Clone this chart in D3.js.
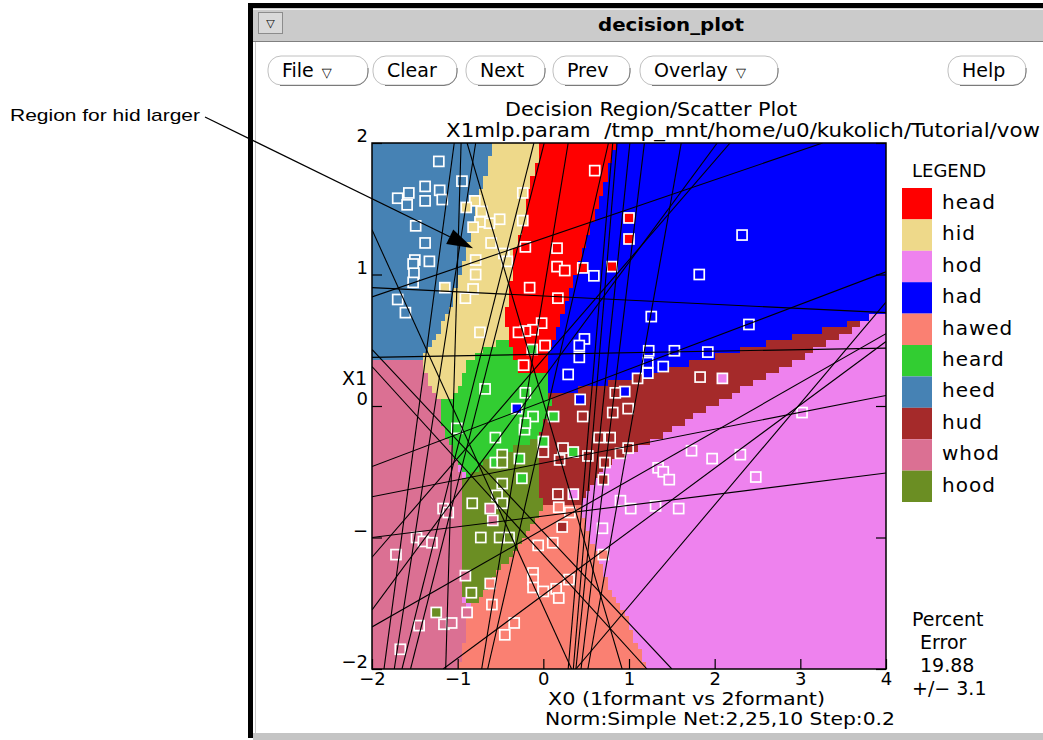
<!DOCTYPE html>
<html>
<head>
<meta charset="utf-8">
<script src="https://cdn.jsdelivr.net/npm/d3@7/dist/d3.min.js"></script>
<style>
  body { margin: 0; background: #fff; }
  svg text { font-family: "DejaVu Sans", "Liberation Sans", sans-serif; fill: #000; }
</style>
</head>
<body>
<svg id="chart" width="1043" height="740"></svg>
<script>
// ---- data ----
var classNames  = ["head", "hid", "hod", "had", "hawed", "heard", "heed", "hud", "whod", "hood"];
var classColors = ["#ff0000", "#eed98a", "#ee82ee", "#0000ff", "#fa8072", "#32cd32", "#4682b4", "#a52a2a", "#db7093", "#6b8e23"];

var xTicks = [-2, -1, 0, 1, 2, 3, 4];
var yTicks = [-2, -1, 0, 1, 2];
var yTickLabels = ["\u22122", "\u2212", "0", "1", "2"];

var percentError = "19.88",
    errorMargin  = "3.1";

// decision regions, outlines in data units (hod fills what is left)
var hawedRegion = [[-1,-2],[-0.94,-1.83],[-0.89,-1.68],[-0.86,-1.5],[-0.77,-1.48],[-0.47,-1.22],[-0.19,-0.97],[0.02,-0.77],[0.43,-0.74],[0.52,-0.94],[0.66,-1.17],[0.78,-1.42],[0.98,-1.63],[1.21,-2]];
var hudRegion   = [[0.04,0.08],[0.66,0.16],[1.13,0.24],[1.71,0.33],[2.69,0.49],[3.35,0.59],[3.76,0.67],[3.76,0.64],[3.38,0.5],[2.96,0.35],[2.3,0.12],[1.83,-0.05],[1.16,-0.31],[0.78,-0.43],[0.6,-0.56],[0.43,-0.73],[0.02,-0.77],[-0.04,-0.7],[-0.04,-0.24],[-0.02,-0.16],[0.08,0.02]];
var hadRegion   = [[0.84,2],[4,2],[4,0.71],[3.76,0.67],[3.35,0.59],[2.69,0.49],[1.71,0.33],[1.13,0.24],[0.66,0.16],[0.04,0.08],[0.04,0.25],[0.04,0.37],[0.16,0.58],[0.28,0.83],[0.43,1.09],[0.55,1.34],[0.66,1.59],[0.76,1.79]];
var headRegion  = [[-0.04,2],[0.84,2],[0.76,1.79],[0.66,1.59],[0.55,1.34],[0.43,1.09],[0.28,0.83],[0.16,0.58],[0.04,0.37],[0.04,0.25],[-0.27,0.25],[-0.39,0.48],[-0.45,0.65],[-0.39,0.88],[-0.35,1.13],[-0.24,1.39],[-0.19,1.64],[-0.07,1.87]];
var hidRegion   = [[-0.59,2],[-0.04,2],[-0.07,1.87],[-0.19,1.64],[-0.24,1.39],[-0.35,1.13],[-0.39,0.88],[-0.45,0.65],[-0.39,0.48],[-0.54,0.48],[-0.86,0.35],[-1.05,0.05],[-1.21,0.05],[-1.36,0.2],[-1.42,0.35],[-1.21,0.58],[-1.07,0.78],[-1.0,0.94],[-0.94,1.09],[-0.82,1.34],[-0.76,1.59],[-0.68,1.74]];
var heedRegion  = [[-2,2],[-0.59,2],[-0.68,1.74],[-0.76,1.59],[-0.82,1.34],[-0.94,1.09],[-1.0,0.94],[-1.07,0.78],[-1.21,0.58],[-1.42,0.35],[-1.62,0.33],[-2,0.33]];
var whodRegion  = [[-2,0.33],[-1.62,0.33],[-1.42,0.35],[-1.36,0.2],[-1.21,0.02],[-1.17,-0.16],[-1.09,-0.28],[-1.01,-0.41],[-0.94,-0.54],[-0.94,-1.42],[-0.89,-1.68],[-0.94,-1.83],[-1,-2],[-2,-2]];
var heardRegion = [[-0.54,0.48],[-0.39,0.48],[-0.27,0.25],[0.04,0.25],[0.08,0.02],[-0.02,-0.16],[-0.04,-0.24],[-0.31,-0.31],[-0.66,-0.41],[-0.89,-0.54],[-1.01,-0.41],[-1.09,-0.28],[-1.17,-0.16],[-1.21,0.02],[-1.05,0.05],[-0.86,0.35]];
var hoodRegion  = [[-0.94,-0.54],[-0.89,-0.54],[-0.66,-0.41],[-0.31,-0.31],[-0.04,-0.24],[-0.04,-0.7],[0.02,-0.77],[-0.19,-0.97],[-0.47,-1.22],[-0.77,-1.48],[-0.86,-1.5],[-0.94,-1.42]];

// first layer hyperplanes: x1, y1, x2, y2 (data units)
var hyperplanes = [
  [-2, 0.83, 3.26, 2], [-2, 0.90, 4, 0.71], [-2, 0.37, 4, 0.44], [-2, -0.46, 4, 1.02],
  [-2, -0.69, 4, 0.08], [-2, -1.00, 4, -0.51], [-1.17, -2, 4, 0.49], [-2, -1.68, 4, 0.55],
  [0.38, -2, 4, 0.79], [-2, 0.30, 1.21, -2], [-2, 0.43, 1.50, -2], [-2, -1.15, 2.18, 2],
  [-2, -1.55, 2.03, 2], [-2, 1.34, 0.33, -2], [-0.89, 2, 0.92, -2], [-1.04, 2, -1.86, -2],
  [-0.96, 2, -1.14, -2], [-0.79, 2, -1.74, -2], [-0.11, 2, -1.65, -2], [0.01, 2, -1.55, -2],
  [0.29, 2, -0.72, -2], [0.76, 2, -0.65, -2], [0.81, 2, 0.29, -2], [0.86, 2, 0.35, -2],
  [1.01, 2, 0.38, -2], [1.18, 2, 0.44, -2], [1.61, 2, 0.52, -2]
];

// training samples: x0, x1, class
var samples = [
  [-1.22,1.86,"heed"],[-0.95,1.71,"heed"],[-1.38,1.67,"heed"],[-1.21,1.64,"heed"],[-1.57,1.62,"heed"],[-1.70,1.58,"heed"],
  [-1.59,1.53,"heed"],[-1.38,1.56,"heed"],[-1.18,1.57,"heed"],[-1.49,1.37,"heed"],[-1.38,1.24,"heed"],[-1.50,1.11,"heed"],
  [-1.33,1.10,"heed"],[-1.52,1.08,"heed"],[-1.51,1.01,"heed"],[-1.52,0.94,"heed"],[-1.70,0.81,"heed"],[-1.61,0.71,"heed"],
  [-0.80,1.56,"hid"],[-0.90,1.51,"hid"],[-0.72,1.48,"hid"],[-0.24,1.62,"hid"],[-0.24,1.41,"hid"],[-0.51,1.42,"hid"],
  [-0.63,1.39,"hid"],[-0.74,1.40,"hid"],[-0.82,1.36,"hid"],[-0.61,1.24,"hid"],[-0.46,1.16,"hid"],[-0.42,1.10,"hid"],
  [-0.79,1.11,"hid"],[-0.79,1.00,"hid"],[-1.15,0.90,"hid"],[-0.82,0.89,"hid"],[-0.91,0.82,"hid"],[-0.74,0.56,"hid"],
  [0.60,1.79,"head"],[-0.21,1.21,"head"],[0.16,1.20,"head"],[0.16,1.06,"head"],[0.25,1.03,"head"],[-0.16,0.90,"head"],
  [0.17,0.82,"head"],[-0.02,0.63,"head"],[-0.12,0.58,"head"],[-0.21,0.57,"head"],[-0.29,0.56,"head"],[0.02,0.46,"head"],
  [-0.23,0.31,"head"],[0.46,1.05,"head"],[0.80,1.06,"head"],[1.00,1.43,"head"],[1.00,1.27,"head"],
  [0.59,0.99,"had"],[0.48,0.51,"had"],[0.42,0.46,"had"],[0.42,0.37,"had"],[0.29,0.24,"had"],[2.32,1.30,"had"],
  [1.82,1.00,"had"],[1.26,0.68,"had"],[2.40,0.62,"had"],[1.23,0.42,"had"],[1.53,0.42,"had"],[1.92,0.41,"had"],
  [1.22,0.33,"had"],[1.40,0.30,"had"],[1.22,0.25,"had"],[0.95,0.11,"had"],[0.43,0.05,"had"],[-0.31,-0.02,"had"],
  [1.83,0.22,"hud"],[1.10,0.21,"hud"],[0.84,0.10,"hud"],[0.99,-0.02,"hud"],[0.81,-0.05,"hud"],[0.78,-0.24,"hud"],
  [0.90,-0.36,"hud"],[0.99,-0.32,"hud"],[0.46,-0.08,"hud"],[0.00,-0.35,"hud"],[0.23,-0.32,"hud"],[0.19,-0.41,"hud"],
  [0.52,-0.38,"hud"],[0.65,-0.24,"hud"],[0.17,-0.67,"hud"],[0.72,-0.43,"hud"],[0.70,-0.56,"hud"],[0.22,-0.92,"hud"],
  [2.09,0.21,"hod"],[3.02,-0.05,"hod"],[1.73,-0.34,"hod"],[1.97,-0.40,"hod"],[2.30,-0.37,"hod"],[1.34,-0.47,"hod"],
  [1.40,-0.50,"hod"],[1.47,-0.56,"hod"],[2.48,-0.54,"hod"],[0.90,-0.72,"hod"],[1.02,-0.78,"hod"],[1.31,-0.76,"hod"],
  [1.58,-0.78,"hod"],[0.69,-0.93,"hod"],[0.35,-0.67,"hod"],
  [0.70,-1.13,"hawed"],[0.18,-0.77,"hawed"],[0.31,-0.81,"hawed"],[-0.06,-1.06,"hawed"],[0.11,-1.04,"hawed"],[-0.62,-1.35,"hawed"],
  [-0.12,-1.27,"hawed"],[-0.12,-1.32,"hawed"],[-0.12,-1.38,"hawed"],[0.00,-1.41,"hawed"],[0.15,-1.39,"hawed"],[0.30,-1.32,"hawed"],
  [0.18,-1.46,"hawed"],[-0.60,-1.51,"hawed"],[-0.34,-1.65,"hawed"],[-0.45,-1.74,"hawed"],
  [-0.68,0.13,"heard"],[-0.21,0.10,"heard"],[-0.12,-0.08,"heard"],[0.12,-0.08,"heard"],[-1.01,-0.17,"heard"],[-0.22,-0.18,"heard"],
  [-0.21,-0.13,"heard"],[-0.56,-0.24,"heard"],[0.00,-0.27,"heard"],[0.35,-0.35,"heard"],[-0.56,-0.43,"heard"],[-0.28,-0.40,"heard"],
  [-0.25,-0.55,"heard"],[-0.13,0.43,"heard"],
  [-0.48,-0.37,"hood"],[-0.48,-0.43,"hood"],[-0.48,-0.59,"hood"],[-0.54,-0.68,"hood"],[-0.48,-0.74,"hood"],[-0.83,-0.74,"hood"],
  [-0.73,-1.00,"hood"],[-0.51,-1.00,"hood"],[-0.40,-1.00,"hood"],[-0.84,-1.42,"hood"],[-1.25,-1.57,"hood"],
  [-0.62,-0.78,"whod"],[-0.59,-0.87,"whod"],[-1.17,-0.78,"whod"],[-1.11,-0.81,"whod"],[-1.48,-1.00,"whod"],[-1.40,-1.03,"whod"],
  [-1.30,-1.04,"whod"],[-1.72,-1.13,"whod"],[-0.91,-1.29,"whod"],[-0.89,-1.57,"whod"],[-1.45,-1.67,"whod"],[-1.16,-1.66,"whod"],
  [-1.07,-1.65,"whod"],[-1.67,-1.85,"whod"]
];

var note = { text: "Region for hid larger", target: [-0.82, 1.20] };

// ---- setup ----
var svg = d3.select("#chart");

var x = d3.scaleLinear().domain([-2, 4]).range([372, 886]);
var y = d3.scaleLinear().domain([-2, 2]).range([669, 143]);
var color = d3.scaleOrdinal().domain(classNames).range(classColors);

// ---- window chrome ----
svg.append("rect").attr("x", 248).attr("y", 3).attr("width", 795).attr("height", 5).attr("fill", "#000");
svg.append("rect").attr("x", 248).attr("y", 3).attr("width", 5).attr("height", 735).attr("fill", "#000");
svg.append("rect").attr("x", 253).attr("y", 8).attr("width", 790).attr("height", 34).attr("fill", "#cbcbcb");
svg.append("line").attr("x1", 253).attr("x2", 1043).attr("y1", 9.5).attr("y2", 9.5).attr("stroke", "#f2f2f2");
svg.append("line").attr("x1", 253).attr("x2", 1043).attr("y1", 41.5).attr("y2", 41.5).attr("stroke", "#808080");
svg.append("line").attr("x1", 255.5).attr("x2", 255.5).attr("y1", 42).attr("y2", 733).attr("stroke", "#c8c8c8");
svg.append("rect").attr("x", 253).attr("y", 733).attr("width", 790).attr("height", 7).attr("fill", "#c4c4c4");

svg.append("rect").attr("x", 258.5).attr("y", 12.5).attr("width", 24).attr("height", 21)
    .attr("fill", "#d9d9d9").attr("stroke", "#8c8c8c");
svg.append("text").attr("x", 270.5).attr("y", 27).attr("text-anchor", "middle")
    .style("font-size", "11px").text("\u25BD");
svg.append("text").attr("x", 671).attr("y", 31).attr("text-anchor", "middle")
    .attr("textLength", 146).attr("lengthAdjust", "spacingAndGlyphs")
    .style("font-size", "18px").style("font-weight", "bold").text("decision_plot");

var buttons = [
  { label: "File", menu: true,  x: 268, w: 100 },
  { label: "Clear", menu: false, x: 373, w: 84 },
  { label: "Next", menu: false, x: 466, w: 79 },
  { label: "Prev", menu: false, x: 553, w: 77 },
  { label: "Overlay", menu: true,  x: 640, w: 138 },
  { label: "Help", menu: false, x: 948, w: 78 }
];

var btn = svg.append("g").selectAll("g").data(buttons).join("g")
    .attr("transform", function(d) { return "translate(" + d.x + ",56)"; });

btn.append("rect")
    .attr("width", function(d) { return d.w; })
    .attr("height", 29)
    .attr("rx", 13)
    .attr("fill", "#fff")
    .attr("stroke", "#c0c0c0");

btn.append("path")
    .attr("d", function(d) {
        return "M12,29.5 H" + (d.w - 13) + " A13,13 0 0 0 " + d.w + ",16 V12";
    })
    .attr("fill", "none")
    .attr("stroke", "#7a7a7a");

btn.append("text")
    .attr("x", 14)
    .attr("y", 21)
    .style("font-size", "19px")
    .text(function(d) { return d.label; })
    .append("tspan")
    .attr("dx", 8)
    .style("font-size", "13px")
    .text(function(d) { return d.menu ? "\u25BD" : ""; });

// ---- titles ----
svg.append("text").attr("x", 651).attr("y", 116).attr("text-anchor", "middle")
    .attr("textLength", 292).attr("lengthAdjust", "spacingAndGlyphs")
    .style("font-size", "19px").text("Decision Region/Scatter Plot");
svg.append("text").attr("x", 446).attr("y", 137)
    .attr("textLength", 594).attr("lengthAdjust", "spacingAndGlyphs")
    .style("font-size", "19px")
    .text("X1mlp.param\u00a0\u00a0/tmp_mnt/home/u0/kukolich/Tutorial/vow");

// ---- decision regions, sampled on a grid ----
var regionLayers = [
  ["hawed", hawedRegion], ["hud", hudRegion], ["had", hadRegion], ["head", headRegion],
  ["hid", hidRegion], ["heed", heedRegion], ["whod", whodRegion], ["heard", heardRegion],
  ["hood", hoodRegion]
];

function class_at(px, py) {
    var c = "hod";
    regionLayers.forEach(function(l) {
        if (d3.polygonContains(l[1], [px, py])) c = l[0];
    });
    return c;
}

var step = 0.05,
    nx = Math.round(6 / step),
    ny = Math.round(4 / step);

var runs = [];
for (var j = 0; j < ny; j++) {
    var yc = -2 + (j + 0.5) * step,
        cur = null;
    for (var i = 0; i < nx; i++) {
        var c = class_at(-2 + (i + 0.5) * step, yc);
        if (cur && cur.c === c) cur.i1 = i + 1;
        else { cur = { c: c, i0: i, i1: i + 1, j: j }; runs.push(cur); }
    }
}

svg.append("defs").append("clipPath").attr("id", "plotClip")
    .append("rect").attr("x", x(-2)).attr("y", y(2))
    .attr("width", x(4) - x(-2)).attr("height", y(-2) - y(2));

svg.append("g").attr("shape-rendering", "crispEdges")
    .selectAll("rect").data(runs).join("rect")
    .attr("x", function(d) { return x(-2 + d.i0 * step); })
    .attr("width", function(d) { return x(-2 + d.i1 * step) - x(-2 + d.i0 * step); })
    .attr("y", function(d) { return y(-2 + (d.j + 1) * step); })
    .attr("height", function(d) { return y(-2 + d.j * step) - y(-2 + (d.j + 1) * step); })
    .attr("fill", function(d) { return color(d.c); });

// ---- samples ----
svg.append("g").attr("clip-path", "url(#plotClip)")
    .selectAll("rect").data(samples).join("rect")
    .attr("x", function(d) { return x(d[0]) - 5; })
    .attr("y", function(d) { return y(d[1]) - 5; })
    .attr("width", 10)
    .attr("height", 10)
    .attr("fill", function(d) { return color(d[2]); })
    .attr("stroke", "#fff")
    .attr("stroke-width", 1.7);

// ---- hyperplanes ----
svg.append("g").attr("clip-path", "url(#plotClip)")
    .selectAll("line").data(hyperplanes).join("line")
    .attr("x1", function(d) { return x(d[0]); })
    .attr("y1", function(d) { return y(d[1]); })
    .attr("x2", function(d) { return x(d[2]); })
    .attr("y2", function(d) { return y(d[3]); })
    .attr("stroke", "#000")
    .attr("stroke-width", 1.1);

// ---- frame and axes ----
svg.append("rect").attr("x", x(-2)).attr("y", y(2))
    .attr("width", x(4) - x(-2)).attr("height", y(-2) - y(2))
    .attr("fill", "none").attr("stroke", "#000").attr("stroke-width", 1.5);

var gx = svg.append("g").attr("transform", "translate(0," + y(-2) + ")")
    .call(d3.axisBottom(x).tickValues(xTicks).tickSize(-10).tickPadding(4)
        .tickFormat(d3.format("d")));
var gy = svg.append("g").attr("transform", "translate(" + x(-2) + ",0)")
    .call(d3.axisLeft(y).tickValues(yTicks).tickSize(-10).tickPadding(4)
        .tickFormat(function(d, i) { return yTickLabels[i]; }));
var gr = svg.append("g").attr("transform", "translate(" + x(4) + ",0)")
    .call(d3.axisRight(y).tickValues(yTicks).tickSize(-10).tickFormat(""));

[gx, gy, gr].forEach(function(g) {
    g.select(".domain").remove();
    g.selectAll(".tick line").attr("stroke", "#000").attr("stroke-width", 1.2);
    g.selectAll(".tick text").style("font-size", "18px").style("font-family", "DejaVu Sans");
});
gy.selectAll(".tick text").attr("dy", "-0.08em");
gx.selectAll(".tick text").attr("dy", "0.66em");

svg.append("text").attr("x", 367).attr("y", 385).attr("text-anchor", "end")
    .style("font-size", "19px").text("X1");
svg.append("text").attr("x", 548).attr("y", 705)
    .attr("textLength", 277).attr("lengthAdjust", "spacingAndGlyphs")
    .style("font-size", "18px").text("X0 (1formant vs 2formant)");
svg.append("text").attr("x", 545).attr("y", 725)
    .attr("textLength", 350).attr("lengthAdjust", "spacingAndGlyphs")
    .style("font-size", "18px").text("Norm:Simple Net:2,25,10 Step:0.2");

// ---- legend ----
svg.append("text").attr("x", 912).attr("y", 177).style("font-size", "18px").text("LEGEND");

var leg = svg.append("g").selectAll("g").data(classNames).join("g")
    .attr("transform", function(d, i) { return "translate(902," + (188 + i * 31.4) + ")"; });

leg.append("rect").attr("width", 30).attr("height", 31.4)
    .attr("fill", function(d) { return color(d); });
leg.append("text").attr("x", 40).attr("y", 21)
    .style("font-size", "20px").style("letter-spacing", "1px")
    .text(function(d) { return d; });

// ---- error readout ----
var errLines = [["Percent", 912, 626], ["Error", 920, 649], [percentError, 920, 672], ["+/\u2212 " + errorMargin, 912, 695]];
svg.append("g").selectAll("text").data(errLines).join("text")
    .attr("x", function(d) { return d[1]; })
    .attr("y", function(d) { return d[2]; })
    .style("font-size", "19px")
    .text(function(d) { return d[0]; });

// ---- annotation ----
var src = [205, 117],
    tip = [x(note.target[0]), y(note.target[1])];
var dx = tip[0] - src[0], dy = tip[1] - src[1], len = Math.sqrt(dx * dx + dy * dy);
var ux = dx / len, uy = dy / len;
var bx = tip[0] - 26 * ux, by = tip[1] - 26 * uy;

svg.append("text").attr("x", 10).attr("y", 121)
    .attr("textLength", 190).attr("lengthAdjust", "spacingAndGlyphs")
    .style("font-family", "Liberation Sans").style("font-size", "17px").text(note.text);
svg.append("line").attr("x1", src[0]).attr("y1", src[1]).attr("x2", bx).attr("y2", by)
    .attr("stroke", "#000").attr("stroke-width", 1.2);
svg.append("path")
    .attr("d", "M" + tip[0] + "," + tip[1] +
               "L" + (bx - 8 * uy) + "," + (by + 8 * ux) +
               "L" + (bx + 8 * uy) + "," + (by - 8 * ux) + "Z")
    .attr("fill", "#000");
</script>
</body>
</html>
